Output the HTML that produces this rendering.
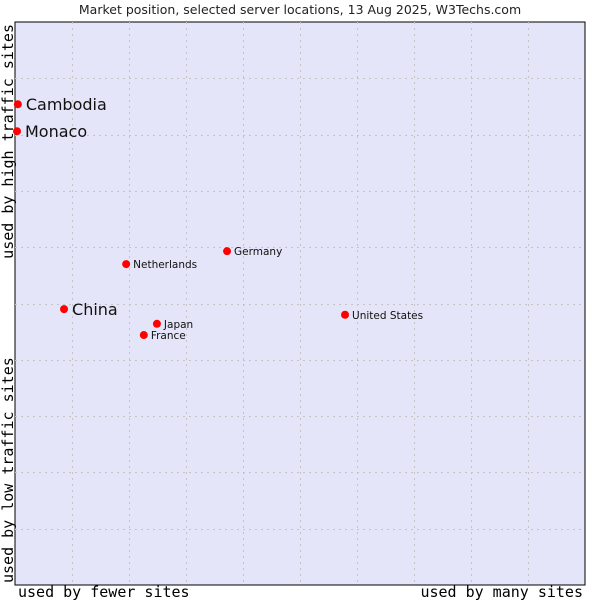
<!DOCTYPE html>
<html><head><meta charset="utf-8"><style>
body{margin:0;background:#fff;width:600px;height:600px;overflow:hidden}
svg{display:block}
</style></head><body>
<svg id="chart" width="600" height="600" xmlns="http://www.w3.org/2000/svg">
<text x="300" y="14" text-anchor="middle" font-family="DejaVu Sans, sans-serif" font-size="12.5" fill="#222">Market position, selected server locations, 13 Aug 2025, W3Techs.com</text>
<rect x="15" y="22" width="570" height="563" fill="#e4e5f8" stroke="#000" stroke-width="1"/>
<g id="grid"></g>
<g id="points"></g>
<text x="18" y="597" font-family="DejaVu Sans Mono, monospace" font-size="15" fill="#000">used by fewer sites</text>
<text x="583" y="597" text-anchor="end" font-family="DejaVu Sans Mono, monospace" font-size="15" fill="#000">used by many sites</text>
<text transform="translate(13,24) rotate(-90)" text-anchor="end" font-family="DejaVu Sans Mono, monospace" font-size="15" fill="#000">used by high traffic sites</text>
<text transform="translate(13,583) rotate(-90)" font-family="DejaVu Sans Mono, monospace" font-size="15" fill="#000">used by low traffic sites</text>
</svg>
<script>
const names=["Cambodia","Monaco","China","Netherlands","Germany","Japan","France","United States"];
const xVals=[0.5,0.35,8.6,19.5,37.2,24.9,22.6,57.9];
const yVals=[85.4,80.6,49.0,57.0,59.3,46.4,44.4,48.0];
const bigLabel=[true,true,true,false,false,false,false,false];
const gridCount=10;
const L=15,T=22,W=570,H=563;
const sx=v=>L+v/100*W, sy=v=>T+H-v/100*H;
const ns="http://www.w3.org/2000/svg";
const g=document.getElementById('grid');
for(let i=1;i<gridCount;i++){
  const vx=document.createElementNS(ns,'line');
  
  
  const x=Math.round(sx(i*100/gridCount))+0.5;
  vx.setAttribute('x1',x);vx.setAttribute('x2',x);vx.setAttribute('y1',T);vx.setAttribute('y2',T+H);
  vx.setAttribute('stroke','#c4c4c4');vx.setAttribute('stroke-dasharray','2,4');
  g.appendChild(vx);
  const hz=document.createElementNS(ns,'line');
  
  
  const y=Math.round(sy(i*100/gridCount))+0.5;
  hz.setAttribute('x1',L);hz.setAttribute('x2',L+W);hz.setAttribute('y1',y);hz.setAttribute('y2',y);
  hz.setAttribute('stroke','#c4c4c4');hz.setAttribute('stroke-dasharray','2,4');
  g.appendChild(hz);
}
const p=document.getElementById('points');
names.forEach((n,i)=>{
  const cx=sx(xVals[i]),cy=sy(yVals[i]);
  const c=document.createElementNS(ns,'circle');
  
  
  c.setAttribute('cx',cx);c.setAttribute('cy',cy);c.setAttribute('r',4);c.setAttribute('fill','#f00');
  p.appendChild(c);
  const t=document.createElementNS(ns,'text');
  
  
  t.setAttribute('x',cx+(bigLabel[i]?8:7));
  t.setAttribute('y',cy+(bigLabel[i]?6:4));
  t.setAttribute('font-family','DejaVu Sans, sans-serif');
  t.setAttribute('font-size',bigLabel[i]?16:10.5);
  t.setAttribute('fill','#111');
  t.textContent=n;
  p.appendChild(t);
});
</script>
</body></html>
